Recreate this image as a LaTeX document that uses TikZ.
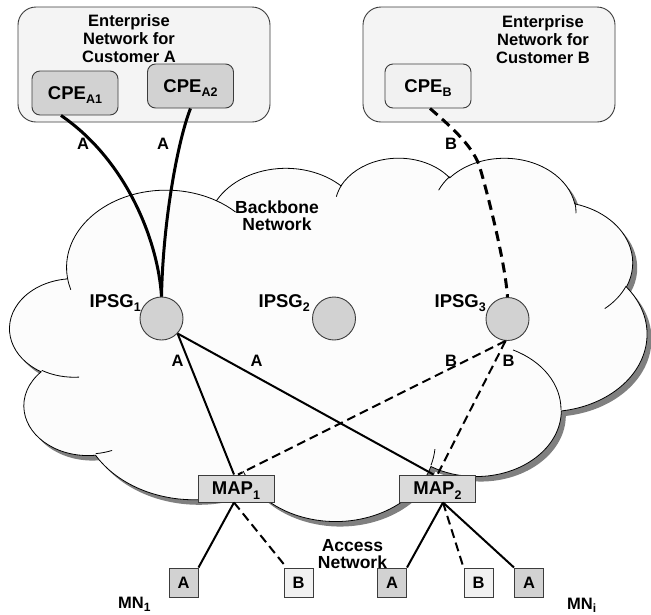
\documentclass[tikz,border=0pt]{standalone}
\usepackage{fontspec}
\setmainfont{Liberation Sans}
\usetikzlibrary{calc}
\definecolor{entfill}{RGB}{244,244,244}
\definecolor{boxline}{RGB}{60,60,60}
\definecolor{darkfill}{RGB}{210,210,210}
\definecolor{lightfill}{RGB}{241,241,241}
\definecolor{cloudfill}{RGB}{252,252,252}
\definecolor{shadowgray}{RGB}{128,128,128}
\definecolor{mapfill}{RGB}{218,218,218}

% elliptical arc of the cloud outline: wR, hR, start angle, sweep (visual angles)
\newcommand\mkarc[6]{%
 \pgfmathsetmacro#1{atan2((#3)*sin(#5),(#4)*cos(#5))}%
 \pgfmathsetmacro\TmpEnd{atan2((#3)*sin(#5+#6),(#4)*cos(#5+#6))}%
 \pgfmathsetmacro#2{mod(\TmpEnd-(#1)+720,360)}%
}
\mkarc\ArcAngA\ArcDelA{6753}{9190}{-190.48748}{123.78053}
\mkarc\ArcAngB\ArcDelB{5333}{7267}{-144.10238}{89.94523}
\mkarc\ArcAngC\ArcDelC{4365}{5945}{-145.80792}{99.72302}
\mkarc\ArcAngD\ArcDelD{4857}{6595}{-130.98607}{117.24173}
\mkarc\ArcAngE\ArcDelE{5333}{7273}{-78.70888}{109.02692}
\mkarc\ArcAngF\ArcDelF{6775}{9220}{-46.26725}{130.269}
\mkarc\ArcAngG\ArcDelG{5785}{7867}{0.62502}{114.03333}
\mkarc\ArcAngH\ArcDelH{6752}{9215}{22.4516}{115.17255}
\mkarc\ArcAngI\ArcDelI{7720}{10543}{66.24263}{75.71102}
\mkarc\ArcAngJ\ArcDelJ{4360}{5918}{-274.94208}{146.73557}
\mkarc\ArcAngK\ArcDelK{4345}{5945}{-246.8285}{152.51885}

\mkarc\InAngA\InDelA{4345}{5945}{86.742}{26.4295}
\mkarc\InAngB\InDelB{4360}{5918}{73.61047}{11.44747}
\mkarc\InAngC\InDelC{6752}{9215}{137.62415}{14.0811}
\mkarc\InAngD\InDelD{6752}{9215}{6.45327}{15.99835}
\mkarc\InAngE\InDelE{5785}{7867}{-70.29235}{70.91737}
\mkarc\InAngF\InDelF{5333}{7273}{30.31803}{27.7515}
\mkarc\InAngG\InDelG{4857}{6595}{-13.74433}{14.8589}
\mkarc\InAngH\InDelH{4857}{6595}{-149.18145}{18.19537}
\mkarc\InAngI\InDelI{4365}{5945}{-163.49427}{17.68635}
\mkarc\InAngJ\InDelJ{6753}{9190}{-66.70695}{12.31935}
\mkarc\InAngK\InDelK{6753}{9190}{157.65435}{11.85817}

\newcommand\CloudPath{(3900,14370)
 arc[start angle=\ArcAngA,delta angle=\ArcDelA,x radius=6753,y radius=9190]
 arc[start angle=\ArcAngB,delta angle=\ArcDelB,x radius=5333,y radius=7267]
 arc[start angle=\ArcAngC,delta angle=\ArcDelC,x radius=4365,y radius=5945]
 arc[start angle=\ArcAngD,delta angle=\ArcDelD,x radius=4857,y radius=6595]
 arc[start angle=\ArcAngE,delta angle=\ArcDelE,x radius=5333,y radius=7273]
 arc[start angle=\ArcAngF,delta angle=\ArcDelF,x radius=6775,y radius=9220]
 arc[start angle=\ArcAngG,delta angle=\ArcDelG,x radius=5785,y radius=7867]
 arc[start angle=\ArcAngH,delta angle=\ArcDelH,x radius=6752,y radius=9215]
 arc[start angle=\ArcAngI,delta angle=\ArcDelI,x radius=7720,y radius=10543]
 arc[start angle=\ArcAngJ,delta angle=\ArcDelJ,x radius=4360,y radius=5918]
 arc[start angle=\ArcAngK,delta angle=\ArcDelK,x radius=4345,y radius=5945]
 -- cycle}

\newcommand\LowSub[1]{\raisebox{-4.5pt}{\fontsize{12.5}{12.5}\selectfont #1}}
\newcommand\MnSub[1]{\raisebox{-3pt}{\fontsize{12}{12}\selectfont #1}}

\begin{document}
\begin{tikzpicture}[x=1pt,y=-1pt,
  entbox/.style={draw=boxline, line width=0.9pt, fill=entfill, rounded corners=18pt,
    minimum width=252pt, minimum height=115pt, inner sep=0pt},
  cpebox/.style={draw=boxline, line width=0.9pt, rounded corners=8pt, minimum width=86pt,
    minimum height=44pt, inner sep=0pt, text depth=0pt, font=\bfseries\fontsize{18.5}{20}\selectfont},
  gw/.style={circle, draw=boxline, line width=0.9pt, fill=darkfill, minimum size=43pt, inner sep=0pt},
  mapbox/.style={draw=boxline, line width=1pt, fill=mapfill, minimum width=76pt, minimum height=27pt,
    inner sep=0pt, text depth=0pt, font=\bfseries\fontsize{18.5}{20}\selectfont},
  mnbox/.style={draw=boxline, line width=1pt, minimum size=29pt, inner sep=0pt,
    font=\bfseries\fontsize{16.5}{18}\selectfont},
  txt/.style={inner sep=0pt, font=\bfseries\fontsize{16.5}{17.8}\selectfont},
  bigtxt/.style={inner sep=0pt, font=\bfseries\fontsize{18.5}{20}\selectfont},
  heavy/.style={line width=3pt},
  heavydash/.style={line width=3pt, dash pattern=on 10pt off 6pt},
  thinlink/.style={line width=2pt},
  thindash/.style={line width=2pt, dash pattern=on 9pt off 5pt},
  cloudline/.style={line width=0.8pt}
]
\useasboundingbox (0,0) rectangle (651,614);
\fill[white] (0,0) rectangle (651,614);

% backbone cloud with shadow
\begin{scope}[shift={(14.5,162)}, x=0.0147454pt, y=-0.0084028pt]
  \fill[shadowgray] \CloudPath;
\end{scope}
\begin{scope}[shift={(10,157)}, x=0.0147454pt, y=-0.0084028pt]
  \filldraw[fill=cloudfill, draw=black, cloudline] \CloudPath;
  \draw[cloudline]
   (4693,26177) arc[start angle=\InAngA,delta angle=\InDelA,x radius=4345,y radius=5945]
   (6928,34899) arc[start angle=\InAngB,delta angle=\InDelB,x radius=4360,y radius=5918]
   (16478,39090) arc[start angle=\InAngC,delta angle=\InDelC,x radius=6752,y radius=9215]
   (28827,34751) arc[start angle=\InAngD,delta angle=\InDelD,x radius=6752,y radius=9215]
   (34129,22954) arc[start angle=\InAngE,delta angle=\InDelE,x radius=5785,y radius=7867]
   (41798,15354) arc[start angle=\InAngF,delta angle=\InDelF,x radius=5333,y radius=7273]
   (38324,5426) arc[start angle=\InAngG,delta angle=\InDelG,x radius=4857,y radius=6595]
   (29078,3952) arc[start angle=\InAngH,delta angle=\InDelH,x radius=4857,y radius=6595]
   (22141,4720) arc[start angle=\InAngI,delta angle=\InDelI,x radius=4365,y radius=5945]
   (14000,5192) arc[start angle=\InAngJ,delta angle=\InDelJ,x radius=6753,y radius=9190]
   (4127,15789) arc[start angle=\InAngK,delta angle=\InDelK,x radius=6753,y radius=9190];
\end{scope}

% enterprise networks
\node[entbox] (entA) at (144,64.5) {};
\node[entbox] (entB) at (489,64.5) {};
\node[txt, align=center] (entAtxt) at (129,38.7) {Enterprise\\Network for\\Customer A};
\node[txt, align=center] (entBtxt) at (543,39.5) {Enterprise\\Network for\\Customer B};
\node[cpebox, fill=darkfill] (cpeA1) at (75,93) {CPE\LowSub{A1}};
\node[cpebox, fill=darkfill] (cpeA2) at (190.5,86) {CPE\LowSub{A2}};
\node[cpebox, fill=lightfill] (cpeB) at (428,86) {CPE\LowSub{B}};

% backbone
\node[inner sep=0pt, align=center, font=\bfseries\fontsize{17.5}{17}\selectfont] (bbtxt) at (277,216) {Backbone\\Network};
\node[gw] (ip1) at (161.5,318.5) {};
\node[gw] (ip2) at (334,318.5) {};
\node[gw] (ip3) at (507.5,319) {};
\node[bigtxt, anchor=base east] (ip1l) at (141,307) {IPSG\LowSub{1}};
\node[bigtxt, anchor=base east] (ip2l) at (310,307) {IPSG\LowSub{2}};
\node[bigtxt, anchor=base east] (ip3l) at (486,307) {IPSG\LowSub{3}};

% access points and mobile nodes
\node[mapbox] (map1) at (236,488.5) {MAP\LowSub{1}};
\node[mapbox] (map2) at (437.5,488.5) {MAP\LowSub{2}};
\node[mnbox, fill=darkfill] (mnA1) at (183.5,582.5) {A};
\node[mnbox, fill=lightfill] (mnB1) at (298.5,582.5) {B};
\node[mnbox, fill=darkfill] (mnA2) at (392,582.5) {A};
\node[mnbox, fill=lightfill] (mnB2) at (478.5,582.5) {B};
\node[mnbox, fill=darkfill] (mnA3) at (529,582.5) {A};

% connectors
\draw[heavy] ($(cpeA1.south)+(-14,0)$) .. controls (126,160) and (158,240) .. (ip1.north);
\draw[heavy] (cpeA2.south) .. controls (178,140) and (163,220) .. (ip1.north);
\draw[heavydash] ($(cpeB.south)+(2,0)$) .. controls (455,130) and (474,148) .. (480,168)
  .. controls (486,188) and (505,260) .. (ip3.north);
\draw[thinlink] (ip1.-43) -- ($(map1.north)+(-2,0)$);
\draw[thinlink] (ip1.-43) -- ($(map2.north)+(-4,0)$);
\draw[thindash] (ip3.-95) -- ($(map1.north)+(2,0)$);
\draw[thindash] (ip3.-95) -- (map2.north);
\draw[thinlink] ($(map1.south)+(-2,0)$) -- (mnA1.north east);
\draw[thindash] ($(map1.south)+(-2,0)$) -- ($(mnB1.north west)+(3,0)$);
\draw[thinlink] ($(map2.south)+(5.5,0)$) -- (mnA2.north east);
\draw[thindash] ($(map2.south)+(5.5,0)$) -- (mnB2.north west);
\draw[thinlink] ($(map2.south)+(5.5,0)$) -- (mnA3.north west);

% labels
\node[txt] (la1) at (83,144) {A};
\node[txt] (la2) at (163,144) {A};
\node[txt] (lb1) at (451,144) {B};
\node[txt] (la3) at (177.5,361) {A};
\node[txt] (la4) at (256.7,361) {A};
\node[txt] (lb2) at (451,361) {B};
\node[txt] (lb3) at (508.5,361) {B};
\node[txt, align=center, font=\bfseries\fontsize{17.5}{17.3}\selectfont] (acc) at (352.5,553.8) {Access\\Network};
\node[txt, anchor=base west] (mn1) at (118,608) {MN\MnSub{1}};
\node[txt, anchor=base west] (mni) at (567,609) {MN\MnSub{i}};
\end{tikzpicture}
\end{document}
